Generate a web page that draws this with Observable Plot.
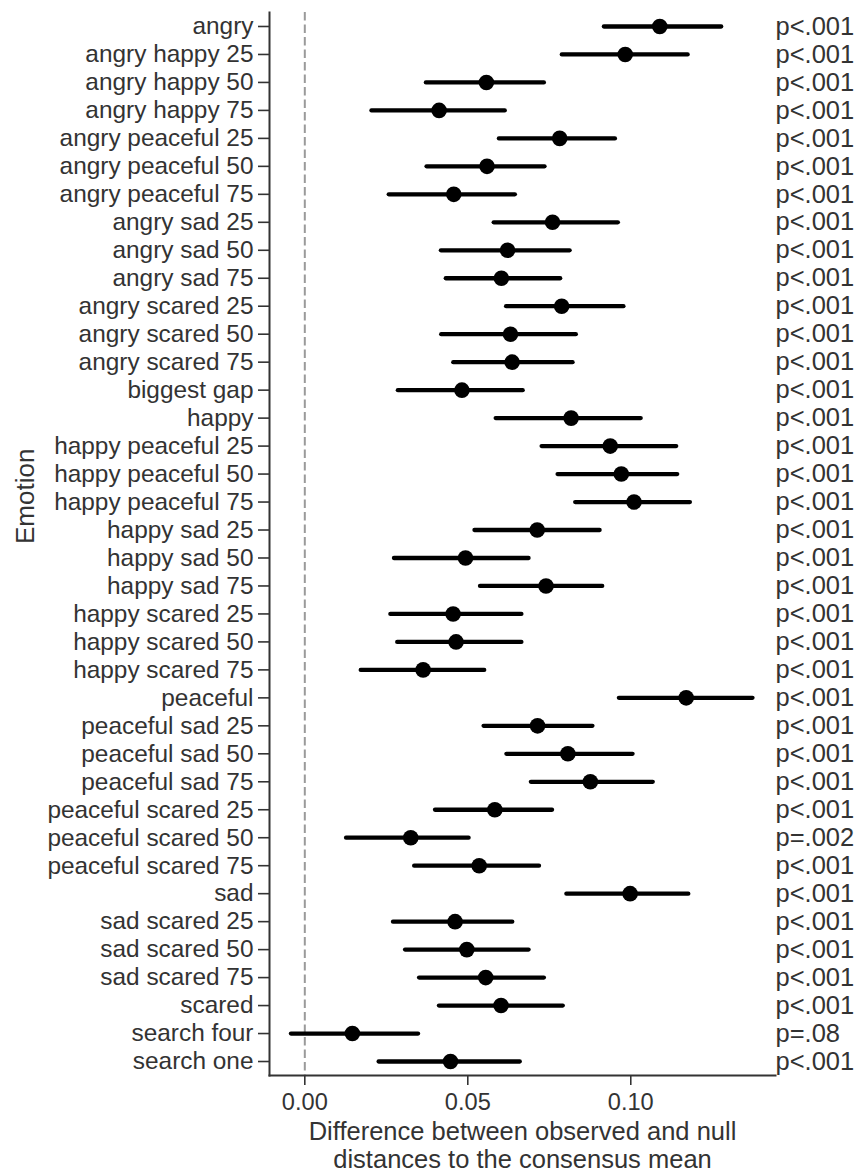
<!DOCTYPE html>
<html>
<head>
<meta charset="utf-8">
<script src="https://cdn.jsdelivr.net/npm/d3@7"></script>
<script src="https://cdn.jsdelivr.net/npm/@observablehq/plot@0.6"></script>
<style>
  html, body { margin: 0; padding: 0; background: #fff; }
  #chart { width: 856px; height: 1172px; }
</style>
</head>
<body>
<div id="chart"></div>
<script>
const emotions = [
  "angry", "angry happy 25", "angry happy 50", "angry happy 75",
  "angry peaceful 25", "angry peaceful 50", "angry peaceful 75",
  "angry sad 25", "angry sad 50", "angry sad 75",
  "angry scared 25", "angry scared 50", "angry scared 75",
  "biggest gap", "happy",
  "happy peaceful 25", "happy peaceful 50", "happy peaceful 75",
  "happy sad 25", "happy sad 50", "happy sad 75",
  "happy scared 25", "happy scared 50", "happy scared 75",
  "peaceful", "peaceful sad 25", "peaceful sad 50", "peaceful sad 75",
  "peaceful scared 25", "peaceful scared 50", "peaceful scared 75",
  "sad", "sad scared 25", "sad scared 50", "sad scared 75",
  "scared", "search four", "search one"
];
const estimate = [
  0.1089, 0.0983, 0.0557, 0.0412,
  0.0782, 0.0559, 0.0457,
  0.0760, 0.0622, 0.0603,
  0.0788, 0.0631, 0.0636,
  0.0482, 0.0817,
  0.0937, 0.0971, 0.1010,
  0.0713, 0.0493, 0.0740,
  0.0455, 0.0464, 0.0363,
  0.1170, 0.0714, 0.0807, 0.0876,
  0.0583, 0.0325, 0.0535,
  0.0998, 0.0461, 0.0497, 0.0555,
  0.0602, 0.0146, 0.0447
];
const lower = [
  0.0919, 0.0790, 0.0373, 0.0206,
  0.0597, 0.0375, 0.0259,
  0.0581, 0.0419, 0.0434,
  0.0619, 0.0420, 0.0457,
  0.0287, 0.0587,
  0.0728, 0.0777, 0.0831,
  0.0522, 0.0275, 0.0539,
  0.0264, 0.0285, 0.0173,
  0.0965, 0.0550, 0.0620, 0.0695,
  0.0401, 0.0128, 0.0337,
  0.0804, 0.0272, 0.0309, 0.0352,
  0.0413, -0.0041, 0.0228
];
const upper = [
  0.1279, 0.1176, 0.0735, 0.0615,
  0.0953, 0.0737, 0.0646,
  0.0962, 0.0814, 0.0785,
  0.0979, 0.0833, 0.0823,
  0.0670, 0.1032,
  0.1141, 0.1144, 0.1183,
  0.0906, 0.0688, 0.0914,
  0.0666, 0.0666, 0.0552,
  0.1375, 0.0884, 0.1007, 0.1069,
  0.0760, 0.0504, 0.0720,
  0.1178, 0.0638, 0.0688, 0.0735,
  0.0793, 0.0349, 0.0661
];
const pLabels = [
  "p<.001", "p<.001", "p<.001", "p<.001",
  "p<.001", "p<.001", "p<.001",
  "p<.001", "p<.001", "p<.001",
  "p<.001", "p<.001", "p<.001",
  "p<.001", "p<.001",
  "p<.001", "p<.001", "p<.001",
  "p<.001", "p<.001", "p<.001",
  "p<.001", "p<.001", "p<.001",
  "p<.001", "p<.001", "p<.001", "p<.001",
  "p<.001", "p=.002", "p<.001",
  "p<.001", "p<.001", "p<.001", "p<.001",
  "p<.001", "p=.08", "p<.001"
];
const xTicks = [0, 0.05, 0.10];
const xDomain = [-0.01083, 0.1444];
const xTitle = "Difference between observed and null\ndistances to the consensus mean";
const yTitle = "Emotion";

const data = emotions.map((e, i) => ({emotion: e, est: estimate[i], lo: lower[i], hi: upper[i], p: pLabels[i]}));

const FONT = "'Liberation Sans', Arial, Helvetica, sans-serif";
const TEXT = "#333333";

const chart = Plot.plot({
  width: 856,
  height: 1172,
  marginLeft: 269,
  marginRight: 81,
  marginTop: 12,
  marginBottom: 97,
  style: {fontFamily: FONT, background: "#ffffff", overflow: "visible"},
  x: {domain: xDomain, nice: false},
  y: {type: "point", domain: emotions, padding: 0.5},
  marks: [
    Plot.ruleX([0], {stroke: "#9a9a9a", strokeWidth: 2, strokeDasharray: "8.5,4"}),
    Plot.ruleY(data, {y: "emotion", x1: "lo", x2: "hi", stroke: "#000", strokeWidth: 4.3, strokeLinecap: "round"}),
    Plot.dot(data, {x: "est", y: "emotion", r: 7.8, fill: "#000", stroke: "none"}),
    Plot.text(data, {y: "emotion", text: "p", frameAnchor: "right", textAnchor: "start", fontSize: 25.5, fill: TEXT}),
    Plot.frame({anchor: "left", stroke: TEXT, strokeWidth: 2}),
    Plot.frame({anchor: "bottom", stroke: TEXT, strokeWidth: 2}),
    Plot.axisY({tickSize: 11, tickPadding: 5, fontSize: 24.4, label: null, stroke: TEXT, strokeWidth: 1.6, color: TEXT}),
    Plot.axisX({ticks: xTicks, tickFormat: d3.format(".2f"), tickSize: 10, tickPadding: 8, fontSize: 23.6, label: null, stroke: TEXT, strokeWidth: 1.6, color: TEXT}),
    Plot.text([yTitle], {frameAnchor: "left", dx: -244, rotate: -90, fontSize: 26, fill: TEXT}),
    Plot.text([xTitle], {frameAnchor: "bottom", dy: 44.9, lineAnchor: "top", lineHeight: 1.098, fontSize: 25.5, fill: TEXT})
  ]
});
document.getElementById("chart").appendChild(chart);
</script>
</body>
</html>
